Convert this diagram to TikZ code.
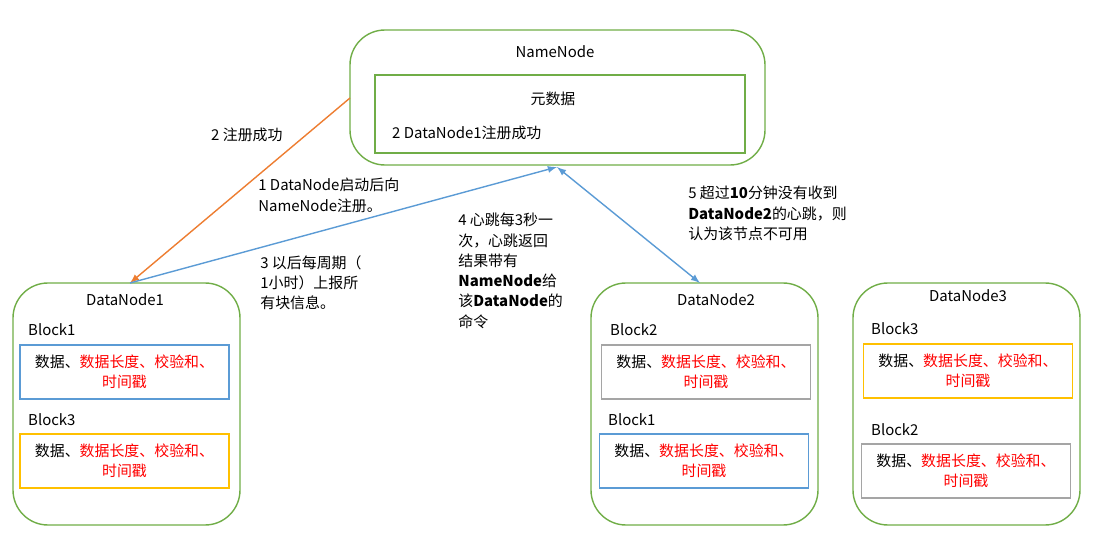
\documentclass[tikz,border=0pt]{standalone}
\usepackage{fontspec}
\setmainfont{Noto Sans CJK SC}
\usetikzlibrary{positioning}
\definecolor{nodegreen}{RGB}{112,173,71}
\definecolor{linkblue}{RGB}{91,155,213}
\definecolor{linkorange}{RGB}{237,125,49}
\definecolor{blockyellow}{RGB}{255,192,0}
\definecolor{blockgray}{RGB}{165,165,165}
\newcommand{\blocktext}{数据、\textcolor{red}{数据长度、校验和、}\\\textcolor{red}{时间戳}}
\begin{document}
\begin{tikzpicture}[x=0.02cm,y=-0.02cm,font=\fontsize{8.5}{11.5}\selectfont,
    server/.style={draw=nodegreen,thick,rounded corners=0.7cm},
    block/.style={draw=#1,thick,minimum width=4.18cm,minimum height=1.08cm,align=center,inner sep=2pt},
    note/.style={align=left,anchor=north west,inner sep=0pt},
    link/.style={thick,-latex}]
\useasboundingbox (0,0) rectangle (1117,537);
% NameNode
\draw[server] (350,30) rectangle (765,165);
\node at (555,52) {NameNode};
\draw[draw=nodegreen,thick] (375,75) rectangle (745,153);
\node at (553,99) {元数据};
\node[anchor=west] at (386,133) {2 DataNode1注册成功};
\coordinate (nnleft) at (350,98);
% DataNode1
\draw[server] (13,283) rectangle (240,525);
\node at (125,300) {DataNode1};
\node[anchor=west] at (22,330) {Block1};
\node[block=linkblue] at (124.5,372) {\blocktext};
\node[anchor=west] at (22,420) {Block3};
\node[block=blockyellow] at (124.5,461) {\blocktext};
\coordinate (dn1) at (130,283);
% DataNode2
\draw[server] (591,283) rectangle (818,525);
\node at (716,300) {DataNode2};
\node[anchor=west] at (604,330) {Block2};
\node[block=blockgray] at (706,372) {\blocktext};
\node[anchor=west] at (602,420) {Block1};
\node[block=linkblue] at (704,461) {\blocktext};
\coordinate (dn2) at (700,283);
% DataNode3
\draw[server] (853,283) rectangle (1080,525);
\node at (968,296) {DataNode3};
\node[anchor=west] at (865,329) {Block3};
\node[block=blockyellow] at (968,371) {\blocktext};
\node[anchor=west] at (865,430) {Block2};
\node[block=blockgray] at (966,471) {\blocktext};
% links
\coordinate (nnbot) at (557,167);
\draw[link,draw=linkorange] (nnleft) -- (dn1);
\draw[link,draw=linkblue] (dn1) -- (nnbot);
\draw[link,latex-latex,draw=linkblue] (nnbot) -- (dn2);
% notes
\node[anchor=west] at (205,135) {2 注册成功};
\node[note] at (258,178) {1 DataNode启动后向\\NameNode注册。};
\node[note] at (260,255) {3 以后每周期（\\1小时）上报所\\有块信息。};
\node[note] at (458,213) {4 心跳每3秒一\\次，心跳返回\\结果带有\\\textbf{NameNode}给\\该\textbf{DataNode}的\\命令};
\node[note] at (688,186) {5 超过\textbf{10}分钟没有收到\\\textbf{DataNode2}的心跳，则\\认为该节点不可用};
\end{tikzpicture}
\end{document}
